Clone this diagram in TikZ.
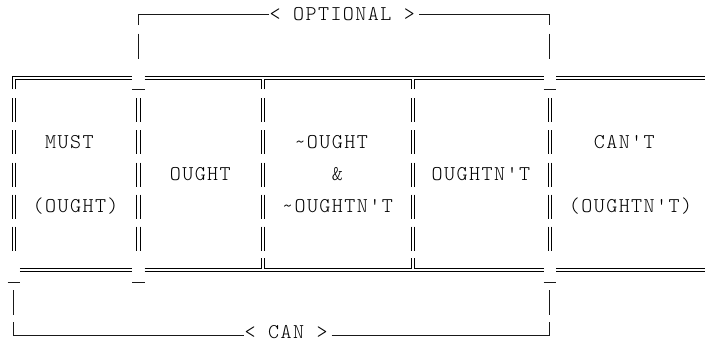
\documentclass[tikz,border=0pt]{standalone}
\usepackage{fontspec}
\newfontfamily\courfam{Latin Modern Mono Light}[LetterSpace=6.9]
\newcommand\gcx[1]{(13.75+12.47*(#1))}
\newcommand\gcl[1]{(7.515+12.47*(#1))}
\newcommand\gry[1]{(14+32.1*(#1))}
\tikzset{
  sgl/.style={line width=1pt, draw=black!90, line cap=butt},
  dbl/.style={line width=0.9pt, draw=black, line cap=butt},
  lbl/.style={font=\courfam\fontsize{21}{24}\selectfont, inner sep=0pt, anchor=base west, text=black},
}
\begin{document}
\begin{tikzpicture}[x=1pt,y=-1pt]
\useasboundingbox (0,0) rectangle (705,341);
% ---- text labels
\node[lbl] (opt)  at ({\gcl{21}},{\gry{0}+6.2}) {< OPTIONAL >};
\node[lbl] (can)  at ({\gcl{19}},{\gry{10}+3.8}) {< CAN >};
\node[lbl] (must) at ({\gcl{3}},{\gry{4}+6.2}) {MUST};
\node[lbl] (mustb) at ({\gcl{2}},{\gry{6}+6.2}) {(OUGHT)};
\node[lbl] (ought) at ({\gcl{13}},{\gry{5}+6.2}) {OUGHT};
\node[lbl] (nota) at ({\gcl{23}},{\gry{4}+6.2}) {\textasciitilde OUGHT};
\node[lbl] (amp)  at ({\gcl{26}},{\gry{5}+6.2}) {\&};
\node[lbl] (notb) at ({\gcl{22}},{\gry{6}+6.2}) {\textasciitilde OUGHTN'T};
\node[lbl] (oughtnt) at ({\gcl{34}},{\gry{5}+6.2}) {OUGHTN'T};
\node[lbl] (cant) at ({\gcl{47}},{\gry{4}+6.2}) {CAN'T};
\node[lbl] (cantb) at ({\gcl{45}},{\gry{6}+6.2}) {(OUGHTN'T)};
% ---- OPTIONAL bracket
\draw[sgl] ({\gcx{10}},{\gry{0}+11}) -- ({\gcx{10}},{\gry{0}}) -- ({\gcl{21}},{\gry{0}});
\draw[sgl] ({\gcl{33}},{\gry{0}}) -- ({\gcx{43}},{\gry{0}}) -- ({\gcx{43}},{\gry{0}+11});
\foreach \c in {10,43}
  \draw[sgl] ({\gcx{\c}},{\gry{1}-12.5}) -- ({\gcx{\c}},{\gry{1}+12.5});
% ---- CAN bracket
\foreach \c in {0,43}
  \draw[sgl] ({\gcx{\c}},{\gry{9}-12.5}) -- ({\gcx{\c}},{\gry{9}+12.5});
\draw[sgl] ({\gcx{0}},{\gry{10}-13}) -- ({\gcx{0}},{\gry{10}}) -- ({\gcl{19}},{\gry{10}});
\draw[sgl] ({\gcl{26}},{\gry{10}}) -- ({\gcx{43}},{\gry{10}}) -- ({\gcx{43}},{\gry{10}-13});
% ---- double verticals
\foreach \c in {0,10,20,32,43}
  \foreach \r in {3,...,7} {
    \draw[dbl] ({\gcx{\c}-1.6},{\gry{\r}-12}) -- ({\gcx{\c}-1.6},{\gry{\r}+12});
    \draw[dbl] ({\gcx{\c}+1.6},{\gry{\r}-12}) -- ({\gcx{\c}+1.6},{\gry{\r}+12});
  }
% ---- top double line (row 2)
\def\yo{76}\def\yi{79.4}\def\yd{89.3}
\draw[dbl] ({\gcx{0}-1.6},\yd) -- ({\gcx{0}-1.6},\yo) -- ({\gcl{10}},\yo);
\draw[dbl] ({\gcx{0}+1.6},\yd) -- ({\gcx{0}+1.6},\yi) -- ({\gcl{10}},\yi);
\draw[dbl] ({\gcl{11}},\yo) -- ({\gcl{43}},\yo);
\draw[dbl] ({\gcl{11}},\yi) -- ({\gcx{20}-1.6},\yi) -- ({\gcx{20}-1.6},\yd);
\draw[dbl] ({\gcx{20}+1.6},\yd) -- ({\gcx{20}+1.6},\yi) -- ({\gcx{32}-1.6},\yi) -- ({\gcx{32}-1.6},\yd);
\draw[dbl] ({\gcx{32}+1.6},\yd) -- ({\gcx{32}+1.6},\yi) -- ({\gcl{43}},\yi);
\draw[dbl] ({\gcl{44}},\yo) -- (706,\yo);
\draw[dbl] ({\gcl{44}},\yi) -- (706,\yi);
\foreach \c in {10,43}
  \draw[sgl] ({\gcl{\c}},89.3) -- ({\gcl{\c+1}},89.3);
% ---- bottom double line (row 8)
\def\yu{268.3}\def\yl{271.7}\def\yt{258.3}
\draw[dbl] ({\gcl{1}},\yu) -- ({\gcl{10}},\yu);
\draw[dbl] ({\gcl{1}},\yl) -- ({\gcl{10}},\yl);
\draw[dbl] ({\gcl{11}},\yl) -- ({\gcl{43}},\yl);
\draw[dbl] ({\gcl{11}},\yu) -- ({\gcx{20}-1.6},\yu) -- ({\gcx{20}-1.6},\yt);
\draw[dbl] ({\gcx{20}+1.6},\yt) -- ({\gcx{20}+1.6},\yu) -- ({\gcx{32}-1.6},\yu) -- ({\gcx{32}-1.6},\yt);
\draw[dbl] ({\gcx{32}+1.6},\yt) -- ({\gcx{32}+1.6},\yu) -- ({\gcl{43}},\yu);
\draw[dbl] ({\gcl{44}},\yu) -- (706,\yu);
\draw[dbl] ({\gcl{44}},\yl) -- (706,\yl);
\foreach \c in {0,10,43}
  \draw[sgl] ({\gcl{\c}},282) -- ({\gcl{\c+1}},282);
\end{tikzpicture}
\end{document}
